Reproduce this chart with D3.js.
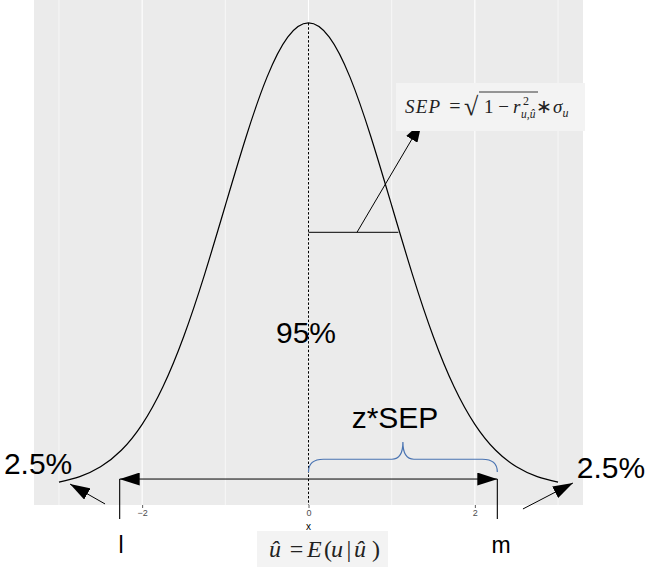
<!DOCTYPE html>
<html><head><meta charset="utf-8">
<script src="https://cdn.jsdelivr.net/npm/d3@7"></script>
<style>body{margin:0;background:#fff}svg{display:block}</style>
</head><body>
<svg id="chart" width="650" height="567"></svg>
<script>
// ---- data ----
const densityX = [-3,-2.75,-2.5,-2.25,-2,-1.75,-1.5,-1.25,-1,-0.75,-0.5,-0.25,0,0.25,0.5,0.75,1,1.25,1.5,1.75,2,2.25,2.5,2.75,3];
const densityY = [0.0044,0.0091,0.0175,0.0317,0.0540,0.0863,0.1295,0.1827,0.2420,0.3011,0.3521,0.3867,0.3989,0.3867,0.3521,0.3011,0.2420,0.1827,0.1295,0.0863,0.0540,0.0317,0.0175,0.0091,0.0044];
const xMajor = [-2,0,2];
const xMinor = [-3,-1,1,3];
const xTickLabels = ["\u22122","0","2"];
const xTitle = "x";
const peak = {x:0, y:0.3989};
const sdSegment = {x0:0, x1:1.08, y:0.219};
const sepArrow = {x0:0.583, y0:0.219, x1:1.364, y1:0.3137};
const ciArrow = {x0:-2.27, x1:2.27, y:0.007, yDrop:-0.0273};
const tailArrows = [{x0:-2.446,y0:-0.0144,x1:-2.867,y1:0.0027},{x0:2.578,y0:-0.0187,x1:3.179,y1:0.0036}];
const brace = {x0:0, x1:2.27, yBase:0.013, yMid:0.024, yTip:0.0388};
const bigLabels = [
  {text:"2.5%", x:-3.251, y:0.0113, size:30},
  {text:"2.5%", x:3.636, y:0.0079, size:30},
  {text:"95%", x:-0.03, y:0.1239, size:30},
  {text:"z*SEP", x:1.04, y:0.0509, size:30},
  {text:"l", x:-2.254, y:-0.0565, size:23},
  {text:"m", x:2.314, y:-0.0565, size:23}
];

// ---- layout ----
const W = 650, H = 567;
const margin = {left:34, right:67, top:0, bottom:62};
const svg = d3.select("#chart");
const x = d3.scaleLinear().domain([-3.3,3.3]).range([margin.left, W - margin.right]);
const y = d3.scaleLinear().domain([-0.0153,0.4186]).range([H - margin.bottom, margin.top]);

// panel
svg.append("rect").attr("x",x.range()[0]).attr("y",margin.top)
  .attr("width",x.range()[1]-x.range()[0]).attr("height",H-margin.bottom-margin.top)
  .attr("fill","#ebebeb");
svg.selectAll("line.minor").data(xMinor).join("line").attr("class","minor")
  .attr("x1",d=>x(d)).attr("x2",d=>x(d)).attr("y1",margin.top).attr("y2",H-margin.bottom)
  .attr("stroke","#fff").attr("stroke-width",0.6);
svg.selectAll("line.major").data(xMajor).join("line").attr("class","major")
  .attr("x1",d=>x(d)).attr("x2",d=>x(d)).attr("y1",margin.top).attr("y2",H-margin.bottom)
  .attr("stroke","#fff").attr("stroke-width",1.1);

// axis
const axis = d3.axisBottom(x).tickValues(xMajor).tickFormat((d,i)=>xTickLabels[i]).tickSize(3).tickPadding(2);
const gx = svg.append("g").attr("transform",`translate(0,${H-margin.bottom})`).call(axis);
gx.select(".domain").remove();
gx.selectAll(".tick line").attr("stroke","#333").attr("stroke-width",0.8);
gx.selectAll(".tick text").attr("fill","#4d4d4d").attr("font-size",9).attr("font-family","Liberation Sans, Arial, sans-serif");
svg.append("text").attr("x",x(0)).attr("y",H-margin.bottom+24.5).attr("text-anchor","middle")
  .attr("font-size",10).attr("font-family","Liberation Sans, Arial, sans-serif").text(xTitle);

// markers
const defs = svg.append("defs");
defs.append("marker").attr("id","arr").attr("markerUnits","userSpaceOnUse")
  .attr("viewBox","0 0 20 13").attr("markerWidth",20).attr("markerHeight",13)
  .attr("refX",20).attr("refY",6.5).attr("orient","auto-start-reverse")
  .append("path").attr("d","M0,0L20,6.5L0,13Z").attr("fill","#000");

// density curve
const pts = densityX.map((d,i)=>[d,densityY[i]]);
svg.append("path").datum(pts)
  .attr("d",d3.line().x(d=>x(d[0])).y(d=>y(d[1])).curve(d3.curveNatural))
  .attr("fill","none").attr("stroke","#000").attr("stroke-width",1.2);

// dashed mean line
svg.append("line").attr("x1",x(peak.x)).attr("x2",x(peak.x)).attr("y1",y(peak.y)).attr("y2",y(-0.0153))
  .attr("stroke","#000").attr("stroke-width",1).attr("stroke-dasharray","2.5,1.8");

// SD segment
svg.append("line").attr("x1",x(sdSegment.x0)).attr("x2",x(sdSegment.x1)).attr("y1",y(sdSegment.y)).attr("y2",y(sdSegment.y))
  .attr("stroke","#000").attr("stroke-width",1);
// SEP arrow
svg.append("line").attr("x1",x(sepArrow.x0)).attr("y1",y(sepArrow.y0)).attr("x2",x(sepArrow.x1)).attr("y2",y(sepArrow.y1))
  .attr("stroke","#000").attr("stroke-width",1).attr("marker-end","url(#arr)");

// CI double arrow + drops
svg.append("line").attr("x1",x(ciArrow.x0)).attr("x2",x(ciArrow.x1)).attr("y1",y(ciArrow.y)).attr("y2",y(ciArrow.y))
  .attr("stroke","#000").attr("stroke-width",1).attr("marker-start","url(#arr)").attr("marker-end","url(#arr)");
[ciArrow.x0, ciArrow.x1].forEach(v=>{
  svg.append("line").attr("x1",x(v)).attr("x2",x(v)).attr("y1",y(ciArrow.y)).attr("y2",y(ciArrow.yDrop))
    .attr("stroke","#000").attr("stroke-width",1.1);
});
// tail arrows
svg.selectAll("line.tail").data(tailArrows).join("line").attr("class","tail")
  .attr("x1",d=>x(d.x0)).attr("y1",d=>y(d.y0)).attr("x2",d=>x(d.x1)).attr("y2",d=>y(d.y1))
  .attr("stroke","#000").attr("stroke-width",1).attr("marker-end","url(#arr)");

// brace
{
  const xl=x(brace.x0), xr=x(brace.x1), xm=(xl+xr)/2, yb=y(brace.yBase), ym=y(brace.yMid), yt=y(brace.yTip);
  const r=15, r2=11;
  const d=`M${xl},${yb}Q${xl},${ym} ${xl+r},${ym}L${xm-r2},${ym}Q${xm},${ym} ${xm},${yt}Q${xm},${ym} ${xm+r2},${ym}L${xr-r},${ym}Q${xr},${ym} ${xr},${yb}`;
  svg.append("path").attr("d",d).attr("fill","none").attr("stroke","#4a74b2").attr("stroke-width",1.2);
}

// big labels
svg.selectAll("text.big").data(bigLabels).join("text").attr("class","big")
  .attr("x",d=>x(d.x)).attr("y",d=>y(d.y)).attr("text-anchor","middle")
  .attr("font-size",d=>d.size).attr("font-family","Liberation Sans, Arial, sans-serif").attr("fill","#000")
  .text(d=>d.text);

// formula helper: pieces placed at offsets inside a box
function formula(g, ox, base, pieces){
  pieces.forEach(p=>{
    g.append("text").attr("x",ox+p.dx).attr("y",base+(p.dy||0))
      .attr("font-family","Liberation Serif, Times New Roman, serif")
      .attr("text-anchor",p.anchor||"start")
      .attr("letter-spacing",p.ls||0)
      .attr("font-size",p.size).attr("font-style",p.it?"italic":"normal").attr("fill","#222").text(p.t);
  });
}

// formula box 1
{
  const g = svg.append("g");
  const bx=396, by=83;
  g.append("rect").attr("x",bx).attr("y",by).attr("width",189).attr("height",48).attr("fill","#f3f3f3");
  const fs = 19, sm = 12;
  formula(g, bx, by+30, [
    {t:"SEP",it:true,size:fs,dx:9,ls:1.2},
    {t:"=",size:fs+1,dx:59,anchor:"middle"},
    {t:"\u221a",size:fs+7,dx:68,dy:2},
    {t:"1",size:fs,dx:88},
    {t:"\u2212",size:fs,dx:107.5,anchor:"middle"},
    {t:"r",it:true,size:fs,dx:117},
    {t:"2",size:sm,dx:127,dy:-8},
    {t:"u,\u00fb",it:true,size:sm-0.5,dx:125,dy:5},
    {t:"\u2217",size:fs,dx:148,anchor:"middle"},
    {t:"\u03c3",it:true,size:fs,dx:157},
    {t:"u",it:true,size:sm,dx:166.5,dy:4}
  ]);
  g.append("line").attr("x1",bx+83).attr("x2",bx+142).attr("y1",by+9).attr("y2",by+9)
    .attr("stroke","#222").attr("stroke-width",0.9);
}
// formula box 2
{
  const g = svg.append("g");
  const bx=257, by=531;
  g.append("rect").attr("x",bx).attr("y",by).attr("width",131).attr("height",36).attr("fill","#f3f3f3");
  const fs = 24;
  formula(g, bx, by+26, [
    {t:"\u00fb",it:true,size:fs,dx:12},
    {t:"=",size:fs,dx:39.5,anchor:"middle"},
    {t:"E",it:true,size:fs,dx:50,ls:1},
    {t:"(",size:fs,dx:67},
    {t:"u",it:true,size:fs,dx:74},
    {t:"|",size:fs,dx:89.5},
    {t:"\u00fb",it:true,size:fs,dx:97},
    {t:")",size:fs,dx:115}
  ]);
}
</script>
</body></html>
